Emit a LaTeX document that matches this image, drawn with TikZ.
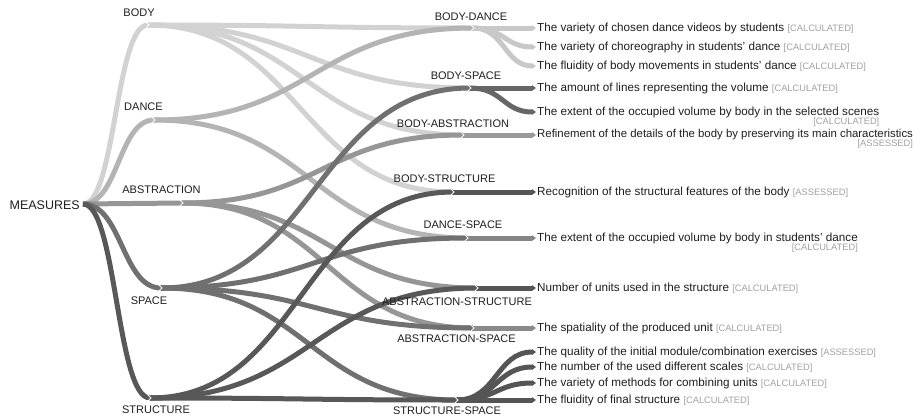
\documentclass[tikz,border=0pt]{standalone}
\usepackage{fontspec}
\setmainfont{Liberation Sans}
\usetikzlibrary{arrows.meta,calc}
\definecolor{cbody}{HTML}{D2D2D2}
\definecolor{cdance}{HTML}{B4B4B4}
\definecolor{cabs}{HTML}{969696}
\definecolor{cspace}{HTML}{707070}
\definecolor{cstruct}{HTML}{585858}
\definecolor{cbd}{HTML}{C8C8C8}
\definecolor{cbs}{HTML}{666666}
\definecolor{cba}{HTML}{9A9A9A}
\definecolor{cbst}{HTML}{555555}
\definecolor{cds}{HTML}{858585}
\definecolor{cast}{HTML}{555555}
\definecolor{casp}{HTML}{8A8A8A}
\definecolor{css}{HTML}{555555}
\definecolor{ctxt}{HTML}{1E1E1E}
\definecolor{ctag}{HTML}{A0A0A0}
\newcommand\mytag[1]{{\color{ctag}\fontsize{9.3}{11}\selectfont #1}}
\newcommand\lnk[3]{%
  \path (#2) -- (#3) coordinate[pos=0.5] (lm);
  \draw[edge, draw=#1] (#2) .. controls (lm |- #2) and (lm |- #3) .. (#3);}
\newcommand\lfk[3]{%
  \path (#2) -- (#3) coordinate[pos=0.5] (lm);
  \draw[edge, draw=#1, -{Triangle[length=4pt,width=5.5pt]}] (#2) .. controls (lm |- #2) and (lm |- #3) .. (#3);}
\newcommand\notchat[1]{\draw[notch] ($(#1)+(-2,-2.8)$) -- ($(#1)+(1,0)$) -- ($(#1)+(-2,2.8)$);}
\tikzset{
  edge/.style={line width=5pt, line cap=butt},
  notch/.style={white, line width=0.8pt},
  lbl/.style={inner sep=0pt, text=ctxt, font=\fontsize{11}{13}\selectfont},
  leaftxt/.style={anchor=west, inner sep=0pt, text=ctxt, font=\fontsize{11.7}{14}\selectfont},
  tagnode/.style={anchor=north east, inner sep=0pt},
}
\begin{document}
\begin{tikzpicture}[x=1pt,y=-1pt]
\useasboundingbox (0,0) rectangle (921,418);
% nodes (points)
\coordinate (root) at (83,204);
\coordinate (body) at (148,25);
\coordinate (dance) at (154,120);
\coordinate (abs) at (182,203);
\coordinate (space) at (161,288);
\coordinate (struct) at (150,398);
\coordinate (bd) at (473,28);
\coordinate (bs) at (470,88);
\coordinate (ba) at (463,135);
\coordinate (bst) at (453,192);
\coordinate (ds) at (467,238);
\coordinate (ast) at (477,288);
\coordinate (asp) at (473,328);
\coordinate (ss) at (457,400);
\coordinate (l1) at (536,28);
\coordinate (l2) at (536,47);
\coordinate (l3) at (536,66);
\coordinate (l4) at (536,88);
\coordinate (l5) at (536,112);
\coordinate (l6) at (536,135);
\coordinate (l7) at (536,192);
\coordinate (l8) at (536,238);
\coordinate (l9) at (536,288);
\coordinate (l10) at (536,328);
\coordinate (l11) at (536,352);
\coordinate (l12) at (536,367);
\coordinate (l13) at (536,383);
\coordinate (l14) at (536,400);
% root edges
\lnk{cbody}{root}{body}
\lnk{cdance}{root}{dance}
\lnk{cabs}{root}{abs}
\lnk{cspace}{root}{space}
\lnk{cstruct}{root}{struct}
% level 1 -> combos
\lnk{cbody}{body}{bd}
\lnk{cbody}{body}{bs}
\lnk{cbody}{body}{ba}
\lnk{cbody}{body}{bst}
\lnk{cdance}{dance}{bd}
\lnk{cdance}{dance}{ds}
\lnk{cabs}{abs}{ba}
\lnk{cabs}{abs}{ast}
\lnk{cabs}{abs}{asp}
\lnk{cspace}{space}{bs}
\lnk{cspace}{space}{ds}
\lnk{cspace}{space}{asp}
\lnk{cspace}{space}{ss}
\lnk{cstruct}{struct}{bst}
\lnk{cstruct}{struct}{ast}
\lnk{cstruct}{struct}{ss}
% combos -> leaves
\lfk{cbd}{bd}{l1}
\lfk{cbd}{bd}{l2}
\lfk{cbd}{bd}{l3}
\lfk{cbs}{bs}{l4}
\lfk{cbs}{bs}{l5}
\lfk{cba}{ba}{l6}
\lfk{cbst}{bst}{l7}
\lfk{cds}{ds}{l8}
\lfk{cast}{ast}{l9}
\lfk{casp}{asp}{l10}
\lfk{css}{ss}{l11}
\lfk{css}{ss}{l12}
\lfk{css}{ss}{l13}
\lfk{css}{ss}{l14}
% notches
\notchat{body}\notchat{dance}\notchat{abs}\notchat{space}\notchat{struct}
\notchat{bd}\notchat{bs}\notchat{ba}\notchat{bst}\notchat{ds}\notchat{ast}\notchat{asp}\notchat{ss}
% labels
\node[lbl, anchor=east, font=\fontsize{12.5}{14}\selectfont] (tm) at (80,205) {MEASURES};
\node[lbl] (tbody) at (139,13) {BODY};
\node[lbl] (tdance) at (143.5,107) {DANCE};
\node[lbl] (tabs) at (161.5,190) {ABSTRACTION};
\node[lbl] (tspace) at (149,301) {SPACE};
\node[lbl] (tstruct) at (156,410) {STRUCTURE};
\node[lbl] (tbd) at (471,17) {BODY-DANCE};
\node[lbl] (tbs) at (466,76) {BODY-SPACE};
\node[lbl] (tba) at (453,124) {BODY-ABSTRACTION};
\node[lbl] (tbst) at (444.5,179) {BODY-STRUCTURE};
\node[lbl] (tds) at (463,225) {DANCE-SPACE};
\node[lbl] (tast) at (457,302) {ABSTRACTION-STRUCTURE};
\node[lbl] (tasp) at (456.5,339) {ABSTRACTION-SPACE};
\node[lbl] (tss) at (447,411) {STRUCTURE-SPACE};
% leaf texts
\node[leaftxt] (t1) at (537,28) {The variety of chosen dance videos by students \mytag{[CALCULATED]}};
\node[leaftxt] (t2) at (537,47) {The variety of choreography in students' dance \mytag{[CALCULATED]}};
\node[leaftxt] (t3) at (537,66) {The fluidity of body movements in students' dance \mytag{[CALCULATED]}};
\node[leaftxt] (t4) at (537,88) {The amount of lines representing the volume \mytag{[CALCULATED]}};
\node[leaftxt] (t5) at (537,112) {The extent of the occupied volume by body in the selected scenes};
\node[tagnode] (t5b) at ($(t5.south east)+(0,-0.5)$) {\mytag{[CALCULATED]}};
\node[leaftxt, font=\fontsize{11.4}{14}\selectfont] (t6) at (537,135) {Refinement of the details of the body by preserving its main characteristics};
\node[tagnode] (t6b) at ($(t6.south east)+(0,-0.5)$) {\mytag{[ASSESSED]}};
\node[leaftxt] (t7) at (537,192) {Recognition of the structural features of the body \mytag{[ASSESSED]}};
\node[leaftxt] (t8) at (537,238) {The extent of the occupied volume by body in students' dance};
\node[tagnode] (t8b) at ($(t8.south east)+(0,-0.5)$) {\mytag{[CALCULATED]}};
\node[leaftxt] (t9) at (537,288) {Number of units used in the structure \mytag{[CALCULATED]}};
\node[leaftxt] (t10) at (537,328) {The spatiality of the produced unit \mytag{[CALCULATED]}};
\node[leaftxt] (t11) at (537,352) {The quality of the initial module/combination exercises \mytag{[ASSESSED]}};
\node[leaftxt] (t12) at (537,367) {The number of the used different scales \mytag{[CALCULATED]}};
\node[leaftxt] (t13) at (537,383) {The variety of methods for combining units \mytag{[CALCULATED]}};
\node[leaftxt] (t14) at (537,400) {The fluidity of final structure \mytag{[CALCULATED]}};
\end{tikzpicture}
\end{document}
